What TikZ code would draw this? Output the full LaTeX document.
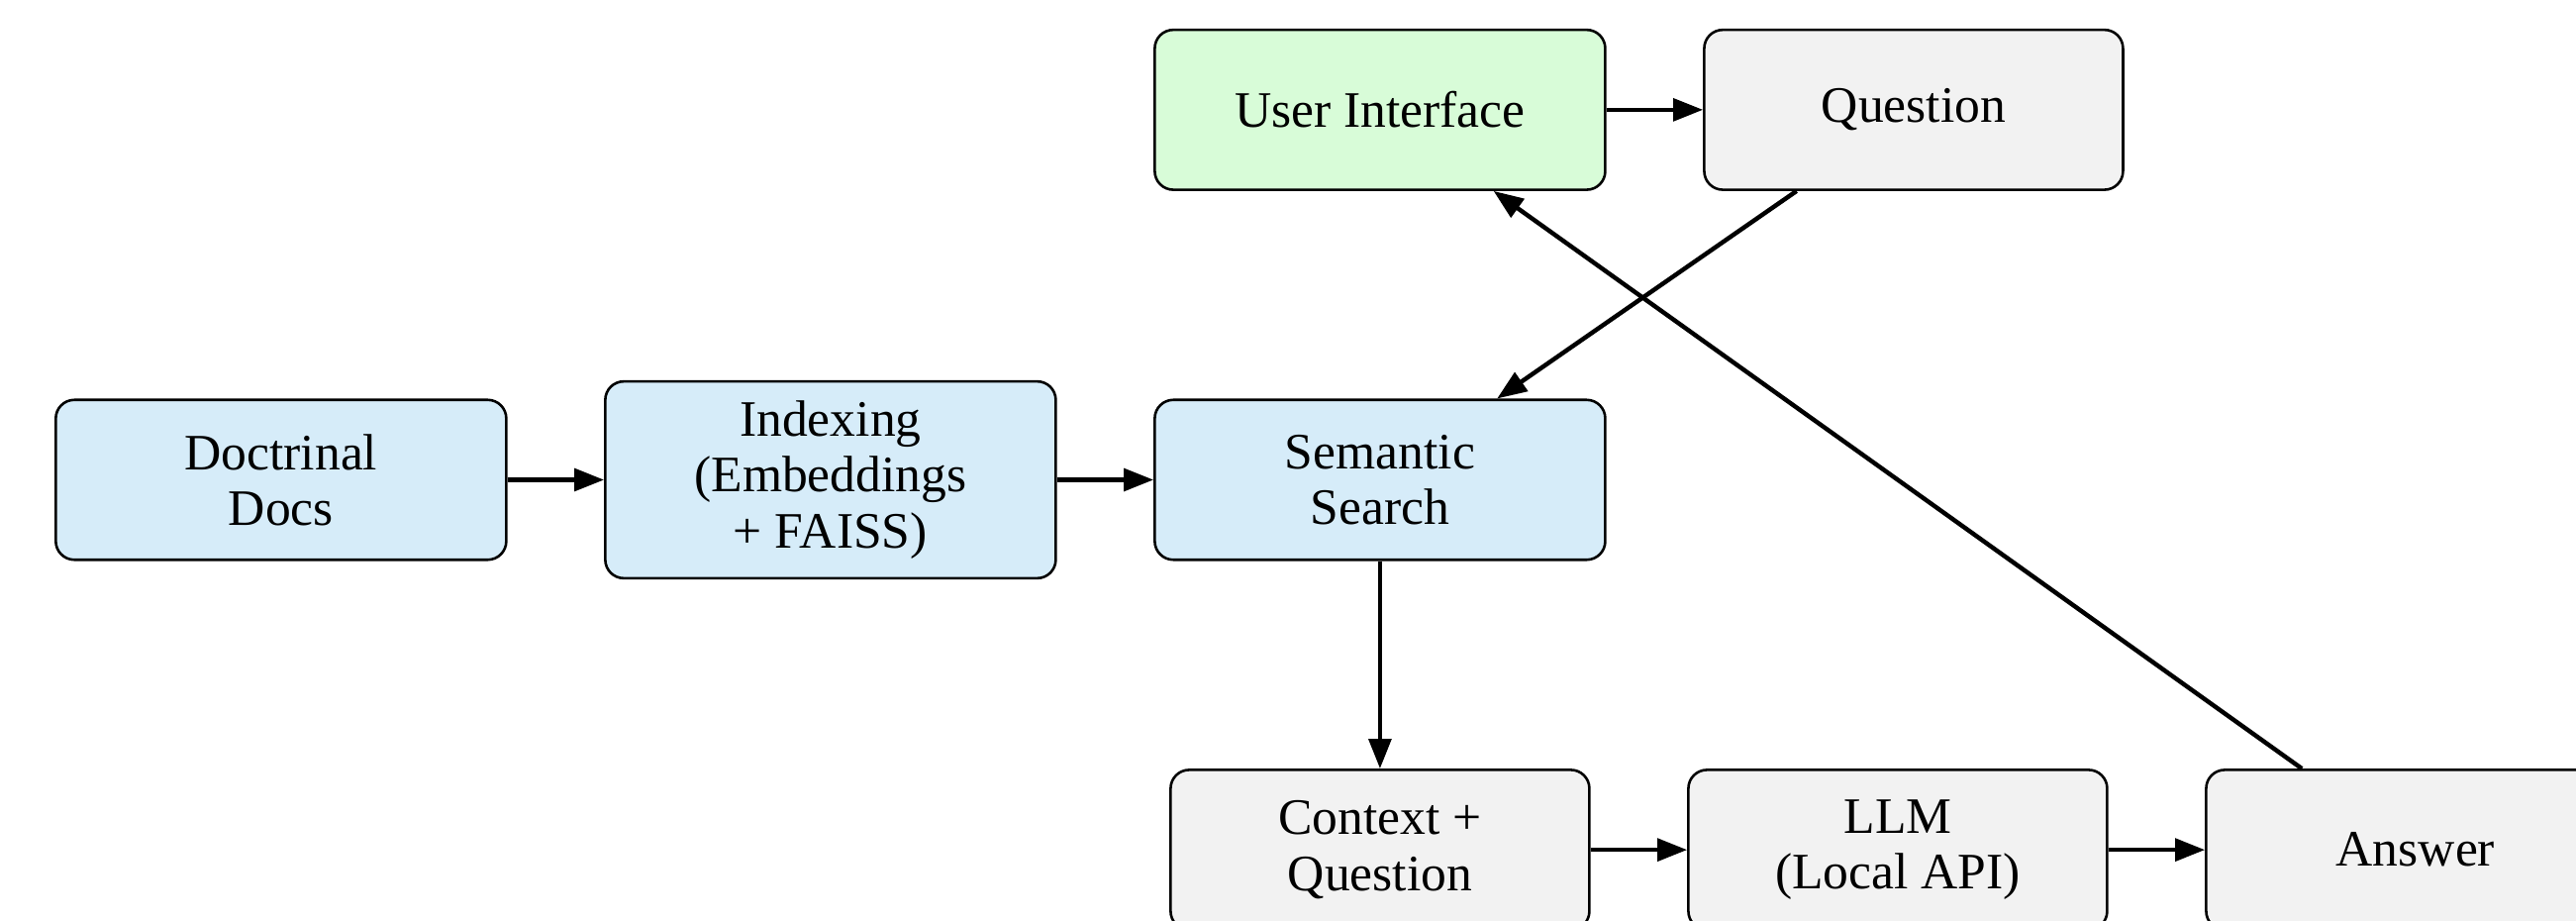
\documentclass[tikz,border=0pt]{standalone}
\usepackage{fontspec}
\setmainfont{Liberation Serif}
\usetikzlibrary{positioning,arrows.meta}
\definecolor{docblue}{RGB}{214,236,249}
\definecolor{uigreen}{RGB}{216,252,216}
\definecolor{stepgray}{RGB}{242,242,242}
\tikzset{
  box/.style={draw,rounded corners=4pt,line width=0.55pt,align=center,inner ysep=4.2pt,
    font=\fontsize{11}{12}\selectfont,minimum height=1.21cm},
  widebox/.style={box,minimum width=3.41cm},
  graybox/.style={box,minimum width=3.17cm,fill=stepgray},
  flow/.style={-{Triangle[length=6.4pt,width=4.8pt]},line width=0.95pt}
}
\begin{document}
\begin{tikzpicture}[node distance=0.73cm and 0.73cm]
  \useasboundingbox (-10.446,-3.333) rectangle (9.053,3.631);
  % middle row
  \node[widebox,fill=docblue] (search) {Semantic\\Search};
  \node[widebox,fill=docblue,left=of search] (index) {Indexing\\(Embeddings\\+ FAISS)};
  \node[widebox,fill=docblue,left=of index] (docs) {Doctrinal\\Docs};
  % top and bottom rows
  \node[widebox,fill=uigreen] (ui) at (0,2.8) {User Interface};
  \node[graybox,right=of ui] (quest) {Question};
  \node[graybox] (ctx) at (0,-2.8) {Context +\\Question};
  \node[graybox,right=of ctx] (llm) {LLM\\(Local API)};
  \node[graybox,right=of llm] (ans) {Answer};
  \draw[flow] (docs) -- (index);
  \draw[flow] (index) -- (search);
  \draw[flow] (ui) -- (quest);
  \draw[flow] (quest) -- (search);
  \draw[flow] (search) -- (ctx);
  \draw[flow] (ctx) -- (llm);
  \draw[flow] (llm) -- (ans);
  \draw[flow] (ans) -- (ui);
\end{tikzpicture}
\end{document}
